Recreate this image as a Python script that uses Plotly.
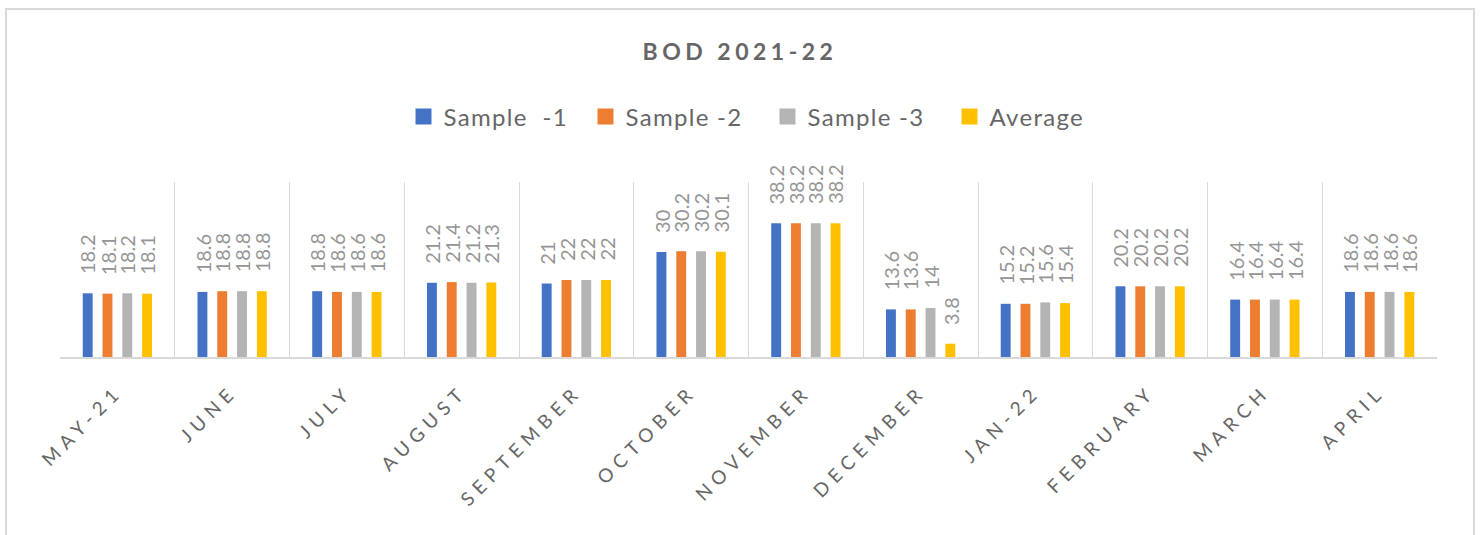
import plotly.graph_objects as go

months = ["MAY-21", "JUNE", "JULY", "AUGUST", "SEPTEMBER", "OCTOBER", "NOVEMBER",
          "DECEMBER", "JAN-22", "FEBRUARY", "MARCH", "APRIL"]
sample_1 = [18.2, 18.6, 18.8, 21.2, 21, 30, 38.2, 13.6, 15.2, 20.2, 16.4, 18.6]
sample_2 = [18.1, 18.8, 18.6, 21.4, 22, 30.2, 38.2, 13.6, 15.2, 20.2, 16.4, 18.6]
sample_3 = [18.2, 18.8, 18.6, 21.2, 22, 30.2, 38.2, 14, 15.6, 20.2, 16.4, 18.6]
average = [18.1, 18.8, 18.6, 21.3, 22, 30.1, 38.2, 3.8, 15.4, 20.2, 16.4, 18.6]

series = [
    ("Sample  -1", sample_1, "#4472C4"),
    ("Sample -2", sample_2, "#ED7D31"),
    ("Sample -3", sample_3, "#B4B4B4"),
    ("Average", average, "#FFC000"),
]

FONT = "Lato, 'Open Sans', sans-serif"
W, H = 1480, 535
ML, MR, MT, MB = 60, 43, 182, 178
BARGAP = 0.31
plot_w = W - ML - MR
slot = plot_w / len(months) * (1 - BARGAP) / len(series)

fig = go.Figure()
annotations = []
for i, (name, vals, color) in enumerate(series):
    fig.add_trace(go.Bar(x=months, y=vals, name=name, marker_color=color,
                         marker_line_width=0))
    for m, v in zip(months, vals):
        annotations.append(dict(
            x=m, y=v, xref="x", yref="y", text=f"{v:g}", showarrow=False,
            textangle=-90, xanchor="center", yanchor="bottom",
            xshift=(i - (len(series) - 1) / 2) * slot, yshift=17,
            font=dict(family=FONT, size=20, color="#959595")))

fig.update_layout(
    width=W, height=H,
    margin=dict(l=ML, r=MR, t=MT, b=MB),
    paper_bgcolor="white", plot_bgcolor="white",
    barmode="group", bargap=BARGAP, bargroupgap=0.5,
    title=dict(text="<b>BOD 2021-22</b>", x=0.5, xanchor="center", y=1 - 52 / H,
               yanchor="middle", font=dict(family=FONT, size=23, color="#666666")),
    legend=dict(orientation="h", x=0.5 + 19 / plot_w, xanchor="center",
                y=(H - MB - 117) / (H - MT - MB),
                yanchor="middle", font=dict(family=FONT, size=24, color="#666666"),
                bgcolor="rgba(0,0,0,0)", traceorder="normal", entrywidth=137),
    showlegend=True,
    annotations=annotations,
    xaxis=dict(type="category", tickson="boundaries", showgrid=True, gridcolor="#d9d9d9",
               gridwidth=1, showline=True, linecolor="#d9d9d9", linewidth=2,
               ticks="", tickangle=-45, ticklabelstandoff=14, automargin=False,
               tickfont=dict(family=FONT, size=19, color="#666666")),
    yaxis=dict(visible=False, range=[0, 50], showgrid=False, zeroline=False,
               automargin=False),
    shapes=[dict(type="rect", xref="paper", yref="paper",
                 x0=(6 - ML) / plot_w, x1=(1474 - ML) / plot_w,
                 y0=(H - MB - 545) / (H - MT - MB), y1=(H - MB - 9) / (H - MT - MB),
                 line=dict(color="#d9d9d9", width=2), fillcolor="rgba(0,0,0,0)",
                 layer="below")],
)

post = """
document.body.style.margin='0';
var st=document.createElement('style');
st.textContent='.xtick text{letter-spacing:6px;} .gtitle{letter-spacing:4.5px;} '
 + '.legendtext{letter-spacing:1.3px;} '
 + '.legendpoints path{transform:translate(20px,0px) scale(1.33);}';
document.head.appendChild(st);
"""
fig.write_html("out.html", post_script=post, config={"displayModeBar": False})
